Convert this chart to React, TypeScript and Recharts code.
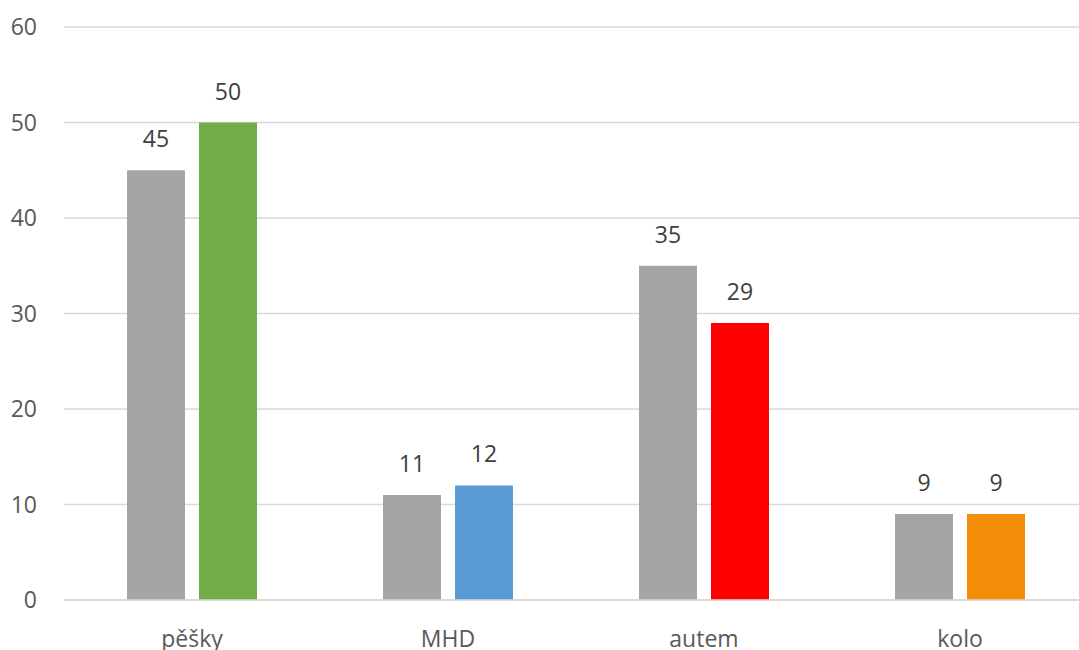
import { BarChart, Bar, XAxis, YAxis, CartesianGrid, LabelList, Cell } from 'recharts'

const categories = ['pěšky', 'MHD', 'autem', 'kolo']
const previous = [45, 11, 35, 9]
const current = [50, 12, 29, 9]
const currentColors = ['#70ad47', '#5b9bd5', '#ff0000', '#f38e09']
const yTicks = [0, 10, 20, 30, 40, 50, 60]

const data = categories.map((name, i) => ({
  name,
  previous: previous[i],
  current: current[i],
}))

const font = '"Open Sans", sans-serif'

export default function App() {
  return (
    <div style={{ position: 'absolute', left: 0, top: 0, fontFamily: font, background: '#fff' }}>
      <BarChart
        width={1079}
        height={650}
        data={data}
        margin={{ top: 27, right: -9, left: 0, bottom: 0 }}
        barSize={58}
        barGap={14}
      >
        <CartesianGrid vertical={false} stroke="#d9d9d9" strokeWidth={1.5} />
        <XAxis
          dataKey="name"
          axisLine={{ stroke: '#d9d9d9', strokeWidth: 1.5 }}
          tickLine={false}
          tickSize={0}
          tickMargin={31}
          height={50}
          tick={{ fontSize: 23, fill: '#595959', fontFamily: font }}
        />
        <YAxis
          domain={[0, 60]}
          ticks={yTicks}
          axisLine={false}
          tickLine={false}
          tickSize={0}
          tickMargin={27}
          width={64}
          tick={{ fontSize: 23, fill: '#595959', fontFamily: font }}
        />
        <Bar dataKey="previous" fill="#a5a5a5" isAnimationActive={false}>
          <LabelList dataKey="previous" position="top" offset={23} fill="#404040" fontSize={23} fontFamily={font} />
        </Bar>
        <Bar dataKey="current" isAnimationActive={false}>
          {data.map((d, i) => (
            <Cell key={d.name} fill={currentColors[i]} />
          ))}
          <LabelList dataKey="current" position="top" offset={23} fill="#404040" fontSize={23} fontFamily={font} />
        </Bar>
      </BarChart>
    </div>
  )
}
